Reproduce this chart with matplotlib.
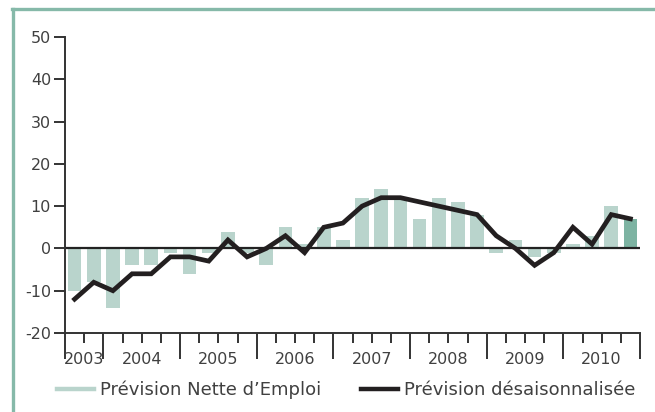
import matplotlib
matplotlib.use("Agg")
import matplotlib.pyplot as plt
import matplotlib.transforms as mtransforms
from matplotlib.lines import Line2D
import numpy as np

years = ["2003", "2004", "2005", "2006", "2007", "2008", "2009", "2010"]
# quarters from 2003 Q3 to 2010 Q4
net_forecast = [-10, -8, -14, -4, -4, -1, -6, -1, 4, -1, -4, 5, 1, 5, 2,
                12, 14, 12, 7, 12, 11, 8, -1, 2, -2, -1, 1, 3, 10, 7]
seasonal_adj = [-12, -8, -10, -6, -6, -2, -2, -3, 2, -2, 0, 3, -1, 5, 6,
                10, 12, 12, 11, 10, 9, 8, 3, 0, -4, -1, 5, 1, 8, 7]
quarters_per_year = [2, 4, 4, 4, 4, 4, 4, 4]
yticks = [-20, -10, 0, 10, 20, 30, 40, 50]
legend_labels = ["Prévision Nette d’Emploi", "Prévision désaisonnalisée"]

plt.rcParams['font.family'] = ['DejaVu Sans']
W, H = 655, 412
fig = plt.figure(figsize=(W / 100, H / 100), dpi=100)
ax = fig.add_axes([65 / W, (H - 333) / H, (640 - 65) / W, (333 - 37) / H])

n = len(net_forecast)
x = np.arange(n) + 0.5
light = "#b9d4cc"
dark = "#7db3a2"
txt = "#404040"
colors = [light] * (n - 1) + [dark]
ax.bar(x, net_forecast, width=0.72, color=colors, zorder=1)
ax.axhline(0, color="#222222", lw=1.6, zorder=2)
ax.plot(x, seasonal_adj, color="#231f20", lw=3.4, solid_joinstyle="miter", zorder=3)

ax.set_xlim(0, n)
ax.set_ylim(-20, 50)
ax.spines["top"].set_visible(False)
ax.spines["right"].set_visible(False)
for s in ["left", "bottom"]:
    ax.spines[s].set_color("#333333")
    ax.spines[s].set_linewidth(1.4)

ax.set_yticks(yticks)
ax.set_yticklabels([str(v) for v in yticks])
ax.tick_params(axis="y", length=8, width=1.4, color="#333333", labelsize=11.5,
               labelcolor=txt, pad=2)

bounds = np.concatenate([[0], np.cumsum(quarters_per_year)])
centers = (bounds[:-1] + bounds[1:]) / 2
ax.set_xticks(bounds)
ax.set_xticklabels([""] * len(bounds))
ax.set_xticks(np.arange(n + 1), minor=True)
ax.tick_params(axis="x", which="major", length=19, width=1.4, color="#333333")
ax.tick_params(axis="x", which="minor", length=7, width=1.4, color="#333333")
off = ax.transData + mtransforms.ScaledTranslation(0, -27 / 100, fig.dpi_scale_trans)
for c, yl in zip(centers, years):
    ax.text(c, -20, yl, transform=off, ha="center", va="center",
            fontsize=11.5, color=txt)

handles = [Line2D([], [], color=light, lw=3.2), Line2D([], [], color="#231f20", lw=3.2)]
fig.legend(handles, legend_labels, loc="center", bbox_to_anchor=(346 / W, (H - 390) / H),
           ncol=2, frameon=False, fontsize=13, handlelength=2.05, handletextpad=0.33,
           columnspacing=2.2, labelcolor=txt, borderpad=0, borderaxespad=0)

border = "#86b9a9"
fig.add_artist(Line2D([13 / W, 13 / W], [0, (H - 8.5) / H], color=border, lw=2.4,
                      transform=fig.transFigure))
fig.add_artist(Line2D([12 / W, 1], [(H - 8.5) / H, (H - 8.5) / H], color=border, lw=2.4,
                      transform=fig.transFigure))

fig.savefig("out.png", dpi=100)
